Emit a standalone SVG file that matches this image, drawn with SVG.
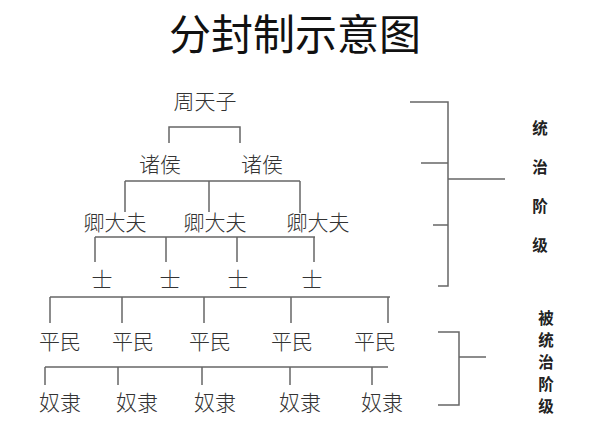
<svg xmlns="http://www.w3.org/2000/svg" width="600" height="423" viewBox="0 0 600 423">
<style>
text{font-family:"Noto Sans CJK SC",sans-serif;fill:#333;text-anchor:middle}
.n{font-size:21px;font-weight:300}
.t{font-size:42px;font-weight:400;fill:#111}
.s{font-size:15.5px;font-weight:bold;fill:#222}
line,polyline{stroke:#666;stroke-width:1.5;fill:none}
</style>
<rect width="600" height="423" fill="#fff"/>
<text class="t" x="295" y="50">分封制示意图</text>
<g id="connectors">
<polyline points="169,143 169,127 240,127 240,143"/>
<line x1="125" y1="181" x2="300" y2="181"/>
<line x1="125" y1="181" x2="125" y2="212"/><line x1="209" y1="181" x2="209" y2="212"/><line x1="300" y1="181" x2="300" y2="213"/>
<line x1="95" y1="237" x2="315" y2="237"/>
<line x1="95" y1="237" x2="95" y2="262"/><line x1="166" y1="237" x2="166" y2="262"/><line x1="237" y1="237" x2="237" y2="262"/><line x1="314" y1="237" x2="314" y2="262"/>
<line x1="50" y1="297" x2="390" y2="297"/>
<line x1="50" y1="297" x2="50" y2="323"/><line x1="122" y1="297" x2="122" y2="323"/><line x1="204" y1="297" x2="204" y2="323"/><line x1="291" y1="297" x2="291" y2="323"/><line x1="388" y1="297" x2="388" y2="323"/>
<line x1="45" y1="367" x2="388" y2="367"/>
<line x1="45" y1="367" x2="45" y2="385"/><line x1="118" y1="367" x2="118" y2="385"/><line x1="202" y1="367" x2="202" y2="385"/><line x1="290" y1="367" x2="290" y2="385"/><line x1="372" y1="367" x2="372" y2="385"/>
<polyline points="410,102 448,102 448,286 438,286"/>
<line x1="421" y1="163" x2="448" y2="163"/><line x1="433" y1="225" x2="448" y2="225"/><line x1="448" y1="179" x2="505" y2="179"/>
<polyline points="438,332 459,332 459,405 438,405"/>
<line x1="459" y1="357" x2="486" y2="357"/>
</g>
<g id="n-king"><text class="n" x="205" y="109">周天子</text></g>
<g id="n-zh1"><text class="n" x="160" y="172">诸侯</text></g>
<g id="n-zh2"><text class="n" x="262" y="172">诸侯</text></g>
<g id="n-q1"><text class="n" x="115" y="230">卿大夫</text></g>
<g id="n-q2"><text class="n" x="215" y="230">卿大夫</text></g>
<g id="n-q3"><text class="n" x="318" y="230">卿大夫</text></g>
<g id="n-s1"><text class="n" x="102" y="287">士</text></g>
<g id="n-s2"><text class="n" x="170" y="287">士</text></g>
<g id="n-s3"><text class="n" x="238" y="287">士</text></g>
<g id="n-s4"><text class="n" x="312" y="287">士</text></g>
<g id="n-p1"><text class="n" x="60" y="349">平民</text></g>
<g id="n-p2"><text class="n" x="133" y="349">平民</text></g>
<g id="n-p3"><text class="n" x="210" y="349">平民</text></g>
<g id="n-p4"><text class="n" x="292" y="349">平民</text></g>
<g id="n-p5"><text class="n" x="375" y="349">平民</text></g>
<g id="n-n1"><text class="n" x="60" y="410">奴隶</text></g>
<g id="n-n2"><text class="n" x="137" y="410">奴隶</text></g>
<g id="n-n3"><text class="n" x="215" y="410">奴隶</text></g>
<g id="n-n4"><text class="n" x="300" y="410">奴隶</text></g>
<g id="n-n5"><text class="n" x="382" y="410">奴隶</text></g>
<g id="ruling">
<text class="s" x="540" y="134">统</text><text class="s" x="540" y="173">治</text><text class="s" x="540" y="212">阶</text><text class="s" x="540" y="251">级</text>
</g>
<g id="ruled">
<text class="s" x="546" y="324">被</text><text class="s" x="546" y="346">统</text><text class="s" x="546" y="368">治</text><text class="s" x="546" y="390">阶</text><text class="s" x="546" y="412">级</text>
</g>
</svg>
